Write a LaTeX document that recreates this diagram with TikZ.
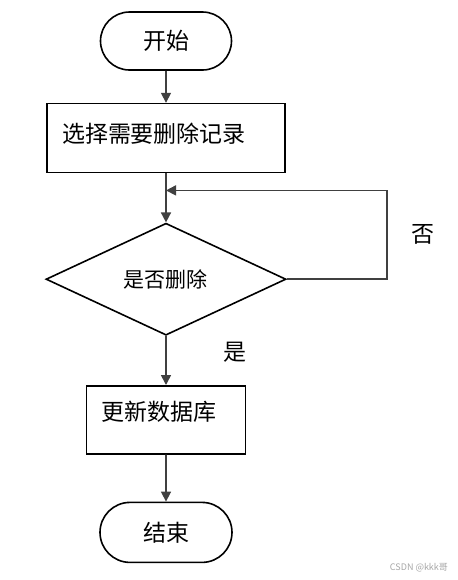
\documentclass[tikz,border=0pt]{standalone}
\usepackage{fontspec}
\setmainfont{Noto Sans CJK SC}
\usetikzlibrary{shapes.geometric, shapes.misc, arrows.meta, positioning}

\begin{document}
\begin{tikzpicture}[node distance=24.5pt, auto, >={Triangle[length=5pt,width=5pt]},
    term/.style={rounded rectangle, draw, thick, minimum width=65.5pt, minimum height=29pt, inner sep=0pt, font=\fontsize{11.5}{13}\selectfont},
    block/.style={rectangle, draw, thick, text width=104pt, align=left, inner xsep=7.5pt, inner ysep=0pt, font=\fontsize{11.5}{13}\selectfont},
    decision/.style={diamond, draw, thick, minimum width=120pt, minimum height=56pt, inner sep=0pt, font=\fontsize{10.5}{12}\selectfont},
    line/.style={draw, ->, thick, black!75},
    tag/.style={font=\fontsize{11.5}{13}\selectfont}]

    \useasboundingbox (0,0) rectangle (228.5pt,-290pt);

    \node [term] (start) at (83pt,-20.5pt) {开始};
    \node [block, below=16pt of start, text height=19.5pt, text depth=15pt] (select) {选择需要删除记录};
    \node [decision, below=of select] (decide) {是否删除};
    \node [block, below=of decide, text width=64.5pt, text height=17.5pt, text depth=16.5pt] (update) {更新数据库};
    \node [term, below=23.5pt of update, minimum width=66pt, minimum height=30pt] (stop) {结束};
    \coordinate [below=8.5pt of select.south] (merge);

    \path [line] (start) -- (select);
    \path [line] (select) -- (decide);
    \path [line] (decide.east) -- ++(50pt,0) |- (merge);
    \path [line] (decide) -- (update);
    \path [line] (update) -- (stop);

    \node [tag] (no) at ([xshift=68pt,yshift=22.5pt]decide.east) {否};
    \node [tag] (yes) at ([xshift=34.5pt,yshift=-8pt]decide.south) {是};
    \node [anchor=east, text=black!35, font=\fontsize{4.5}{5}\selectfont] (mark) at (227.5pt,-284pt) {CSDN @kkk哥};
\end{tikzpicture}
\end{document}
